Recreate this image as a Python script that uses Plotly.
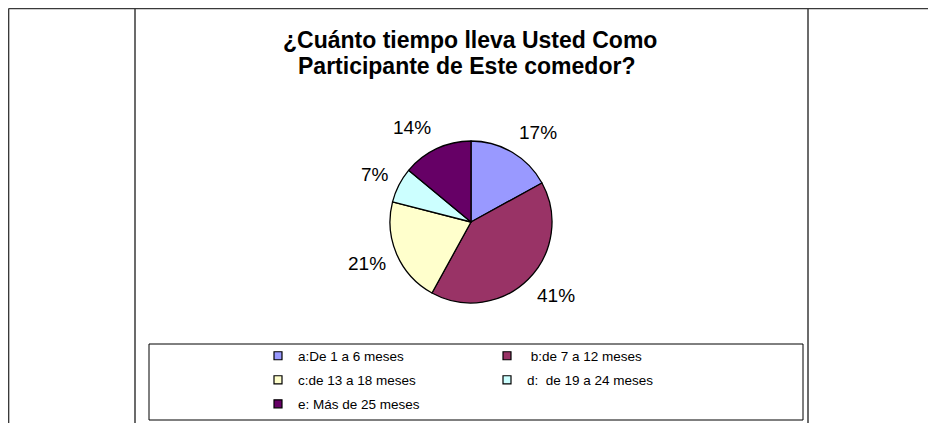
import math
import plotly.graph_objects as go

# The page is shown with the browser's default 8px body margin,
# so the figure is 8px smaller than the window on each axis.
OFF = 8
W, H = 936 - OFF, 423 - OFF

categories = ["a:De 1 a 6 meses", " b:de 7 a 12 meses", "c:de 13 a 18 meses",
              "d:  de 19 a 24 meses", "e: Más de 25 meses"]
values = [17, 41, 21, 7, 14]
colors = ["#9999FF", "#993366", "#FFFFCC", "#CCFFFF", "#660066"]
title_lines = ["¿Cuánto tiempo lleva Usted Como", "Participante de Este comedor?"]
legend_rows = ["legend", "legend", "legend2", "legend2", "legend3"]

FONT = "Liberation Sans, Arial, sans-serif"

# pie geometry (window pixels)
cx, cy, r = 471, 222, 81
lab_rx, lab_ry = 90, 104


def px(x):
    return (x - OFF) / W


def py(y):
    return 1 - (y - OFF) / H


fig = go.Figure()
fig.add_trace(go.Pie(
    labels=categories, values=values, sort=False, direction="clockwise",
    rotation=0, textinfo="none", hoverinfo="label+percent",
    marker=dict(colors=colors, line=dict(color="#000000", width=1.3)),
    domain=dict(x=[px(cx - r), px(cx + r)], y=[py(cy + r), py(cy - r)]),
    showlegend=False,
))

# legend entries (one per category, same colours as slices)
for name, col, lg in zip(categories, colors, legend_rows):
    fig.add_trace(go.Scatter(
        x=[None], y=[None], mode="markers", name=name, legend=lg,
        marker=dict(symbol="square", size=8, color=col,
                    line=dict(color="#000000", width=1.2)),
        hoverinfo="skip",
    ))

# percentage labels placed outside each slice at its mid-angle
annotations = []
total = sum(values)
cum = 0
for v in values:
    mid = (cum + v / 2) / total * 2 * math.pi
    cum += v
    s, c = math.sin(mid), math.cos(mid)
    lx = cx + lab_rx * s
    ly = cy - lab_ry * c
    annotations.append(dict(
        x=px(lx), y=py(ly), xref="paper", yref="paper", showarrow=False,
        text=f"{round(v / total * 100)}%",
        xanchor="left" if s > 0 else "right", yanchor="middle",
        font=dict(size=19, color="#000000", family=FONT),
    ))

for line, (tx, ty) in zip(title_lines, [(470, 40), (466, 66)]):
    annotations.append(dict(
        x=px(tx), y=py(ty), xref="paper", yref="paper", showarrow=False,
        text="<b>" + line + "</b>", xanchor="center", yanchor="middle",
        font=dict(size=23, color="#000000", family=FONT),
    ))

line_col = "#3a3a3a"
top = py(8.6)
shapes = [
    dict(type="line", xref="paper", yref="paper", x0=px(8.6), x1=1.01, y0=top, y1=top,
         line=dict(color=line_col, width=1.5)),
    dict(type="line", xref="paper", yref="paper", x0=px(8.6), x1=px(8.6), y0=top, y1=0,
         line=dict(color=line_col, width=1.5)),
    dict(type="line", xref="paper", yref="paper", x0=px(135), x1=px(135), y0=top, y1=0,
         line=dict(color=line_col, width=1.5)),
    dict(type="line", xref="paper", yref="paper", x0=px(808), x1=px(808), y0=top, y1=0,
         line=dict(color=line_col, width=1.5)),
    dict(type="rect", xref="paper", yref="paper", x0=px(149), x1=px(803), y0=py(344), y1=py(420),
         line=dict(color="#000000", width=1)),
]

leg_common = dict(
    orientation="h", xanchor="left", yanchor="middle",
    entrywidth=184, entrywidthmode="pixels", traceorder="normal",
    font=dict(size=13.5, color="#000000", family=FONT),
    bgcolor="rgba(0,0,0,0)", borderwidth=0, itemclick=False, itemdoubleclick=False,
)
leg_x = px(258)

fig.update_layout(
    width=W, height=H, margin=dict(l=0, r=0, t=0, b=0, autoexpand=False),
    paper_bgcolor="#FFFFFF", plot_bgcolor="#FFFFFF",
    font=dict(family=FONT, color="#000000"),
    annotations=annotations, shapes=shapes,
    xaxis=dict(visible=False), yaxis=dict(visible=False),
    legend=dict(x=leg_x, y=py(356), **leg_common),
    legend2=dict(x=leg_x, y=py(380), **leg_common),
    legend3=dict(x=leg_x, y=py(404), **leg_common),
)

fig.write_html("out.html")
